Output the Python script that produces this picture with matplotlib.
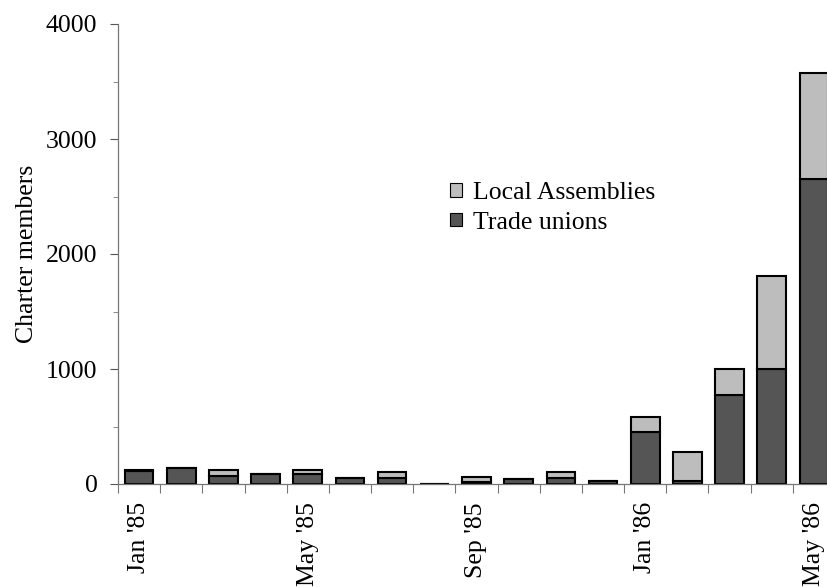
import matplotlib
matplotlib.use("Agg")
import matplotlib.pyplot as plt
import numpy as np
from matplotlib.patches import Patch

months = ["Jan '85", "Feb '85", "Mar '85", "Apr '85", "May '85", "Jun '85", "Jul '85",
          "Aug '85", "Sep '85", "Oct '85", "Nov '85", "Dec '85", "Jan '86", "Feb '86",
          "Mar '86", "Apr '86", "May '86"]
trade_unions = [110, 135, 70, 85, 85, 55, 50, 0, 15, 45, 50, 30, 450, 30, 770, 1000, 2650]
local_assemblies = [10, 0, 50, 0, 40, 0, 55, 0, 50, 0, 55, 0, 130, 245, 230, 810, 920]
shown_labels = ["Jan '85", "May '85", "Sep '85", "Jan '86", "May '86"]

plt.rcParams['font.family'] = ['Liberation Serif', 'DejaVu Serif']
FS = 18.5

fig = plt.figure(figsize=(8.28, 5.87), dpi=100)
ax = fig.add_axes([118/828, 1-484/587, (835-118)/828, (484-24)/587])

x = np.arange(len(months))
dark = '#555555'
light = '#bdbdbd'
ax.bar(x, trade_unions, width=0.68, color=dark, edgecolor='black', linewidth=1.5)
ax.bar(x, local_assemblies, bottom=trade_unions, width=0.68, color=light,
       edgecolor='black', linewidth=1.5)

ax.set_xlim(-0.5, len(months) - 0.5)
ax.set_ylim(0, 4000)
ax.set_yticks([0, 1000, 2000, 3000, 4000])
ax.set_yticks(np.arange(500, 4000, 1000), minor=True)
ax.tick_params(axis='y', which='major', direction='out', length=5.8, width=0.8,
               labelsize=FS, color='#555555', pad=9)
ax.tick_params(axis='y', which='minor', direction='out', length=3.6, width=0.6, color='#777777')

pos = [months.index(m) for m in shown_labels]
ax.set_xticks(pos)
ax.set_xticklabels(shown_labels, rotation=90, fontsize=FS)
ax.set_xticks(np.arange(-0.5, len(months), 1), minor=True)
ax.tick_params(axis='x', which='major', length=0, pad=13)
ax.tick_params(axis='x', which='minor', direction='out', length=6.5, width=0.8, color='#777777')

for s in ['top', 'right']:
    ax.spines[s].set_visible(False)
ax.spines['left'].set_color('#777777')
ax.spines['bottom'].set_color('#777777')
ax.spines['left'].set_linewidth(0.9)
ax.spines['bottom'].set_linewidth(0.9)

ax.set_ylabel('Charter members', fontsize=FS, labelpad=6)

handles = [Patch(facecolor=light, edgecolor='black', linewidth=0.8, label='Local Assemblies'),
           Patch(facecolor=dark, edgecolor='black', linewidth=0.8, label='Trade unions')]
fig.legend(handles=handles, loc='upper left', bbox_to_anchor=(450/828, 1-182/587),
           frameon=False, fontsize=FS, handlelength=0.45, handleheight=0.45,
           handletextpad=0.45, labelspacing=0.3, borderaxespad=0, borderpad=0)

fig.savefig('out.png', dpi=100)
